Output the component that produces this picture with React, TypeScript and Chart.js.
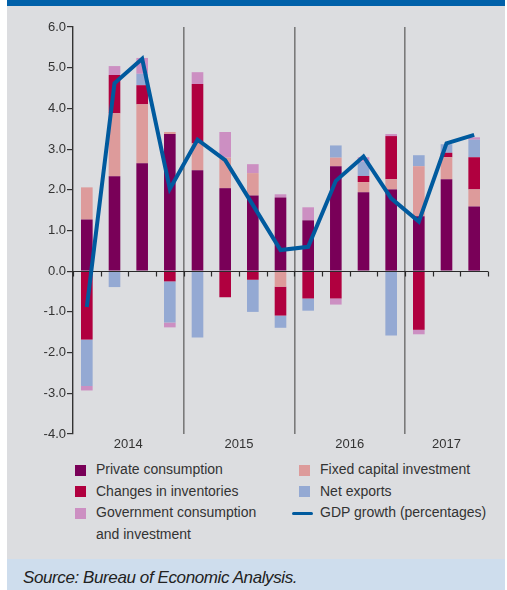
import React, { useEffect, useRef } from 'react';
import { Chart, registerables } from 'chart.js';

Chart.register(...registerables);

// ---- data ----
const quarters = [
  '2014 Q1', '2014 Q2', '2014 Q3', '2014 Q4',
  '2015 Q1', '2015 Q2', '2015 Q3', '2015 Q4',
  '2016 Q1', '2016 Q2', '2016 Q3', '2016 Q4',
  '2017 Q1', '2017 Q2', '2017 Q3',
];
const years = ['2014', '2015', '2016', '2017'];
const yearCenters = [1.5, 5.5, 9.5, 13];
const yearBoundaries = [4, 8, 12];
const yTicks = [-4, -3, -2, -1, 0, 1, 2, 3, 4, 5, 6];

const privateConsumption = [1.27, 2.33, 2.65, 3.37, 2.48, 2.04, 1.86, 1.81, 1.25, 2.58, 1.94, 2.01, 1.35, 2.26, 1.59];
const fixedCapital = [0.79, 1.55, 1.45, 0.05, 0.66, 0.75, 0.55, -0.38, 0, 0.21, 0.25, 0.25, 1.23, 0.54, 0.42];
const inventories = [-1.68, 0.94, 0.47, -0.25, 1.46, -0.64, -0.21, -0.71, -0.67, -0.67, 0.15, 1.06, -1.44, 0.11, 0.79];
const netExports = [-1.14, -0.39, 0.28, -1.01, -1.63, 0, -0.79, -0.30, -0.30, 0.30, 0.35, -1.58, 0.27, 0.21, 0.43];
const government = [-0.11, 0.22, 0.39, -0.12, 0.29, 0.63, 0.22, 0.08, 0.32, -0.15, 0.11, 0.05, -0.11, -0.02, 0.06];
const gdpGrowth = [-0.88, 4.62, 5.22, 2.02, 3.23, 2.73, 1.63, 0.52, 0.60, 2.22, 2.82, 1.79, 1.22, 3.14, 3.35];

const seriesNames = [
  'Private consumption',
  'Fixed capital investment',
  'Changes in inventories',
  'Net exports',
  'Government consumption and investment',
  'GDP growth (percentages)',
];

const COLORS = {
  pc: '#790058',
  fci: '#dd9b9b',
  inv: '#b0003f',
  ne: '#94a9d3',
  gov: '#cc8fc2',
  gdp: '#005a9e',
};

const FONT = "'Liberation Sans', Arial, sans-serif";
const TEXT = '#333333';

const zeroLinePlugin = {
  id: 'zeroLine',
  beforeDatasetDraw(chart: any, args: any) {
    if (args.index !== 5) return;
    const { ctx, chartArea, scales } = chart;
    const xs = scales.x;
    const y0 = Math.round(scales.y.getPixelForValue(0)) + 0.5;
    const half = (xs.getPixelForValue(1) - xs.getPixelForValue(0)) / 2;
    ctx.save();
    ctx.strokeStyle = '#2a2a2a';
    ctx.lineWidth = 1.2;
    ctx.beginPath();
    ctx.moveTo(chartArea.left, y0);
    ctx.lineTo(chartArea.right, y0);
    for (let i = 0; i <= quarters.length; i++) {
      const x = Math.round(xs.getPixelForValue(i) - half) + 0.5;
      ctx.moveTo(x, y0);
      ctx.lineTo(x, y0 + 5);
    }
    ctx.stroke();
    ctx.restore();
  },
};

function ChartCanvas() {
  const ref = useRef<HTMLCanvasElement | null>(null);
  useEffect(() => {
    if (!ref.current) return;
    const barDs = (label: string, data: number[], color: string) => ({
      type: 'bar' as const,
      label,
      data,
      backgroundColor: color,
      borderWidth: 0,
      barPercentage: 0.42,
      categoryPercentage: 1,
      stack: 'parts',
      order: 1,
    });
    const chart = new Chart(ref.current, {
      type: 'bar',
      data: {
        labels: quarters,
        datasets: [
          barDs(seriesNames[0], privateConsumption, COLORS.pc),
          barDs(seriesNames[1], fixedCapital, COLORS.fci),
          barDs(seriesNames[2], inventories, COLORS.inv),
          barDs(seriesNames[3], netExports, COLORS.ne),
          barDs(seriesNames[4], government, COLORS.gov),
          {
            type: 'line' as const,
            label: seriesNames[5],
            data: gdpGrowth,
            borderColor: COLORS.gdp,
            backgroundColor: COLORS.gdp,
            borderWidth: 4,
            pointRadius: 0,
            tension: 0,
            fill: false,
            stack: 'gdp',
            order: 0,
            borderJoinStyle: 'miter',
          } as any,
        ],
      },
      options: {
        responsive: false,
        animation: false,
        layout: { padding: { top: 21, right: 17, bottom: 0, left: 0 } },
        plugins: {
          legend: { display: false },
          tooltip: { enabled: false },
          title: { display: false },
        },
        scales: {
          x: {
            type: 'category',
            stacked: true,
            offset: true,
            grid: {
              offset: true,
              drawTicks: false,
              lineWidth: 1.6,
              color: (ctx: any) => (yearBoundaries.includes(ctx.index) ? '#7a7a7a' : 'rgba(0,0,0,0)'),
            },
            border: { display: false },
            ticks: { display: false },
            afterFit: (s: any) => { s.height = 0; },
          },
          x2: {
            type: 'linear',
            position: 'bottom',
            offset: false,
            min: -0.5,
            max: quarters.length - 0.5,
            grid: { display: false, drawTicks: false, offset: false },
            border: { display: false },
            ticks: {
              autoSkip: false,
              maxRotation: 0,
              padding: 3,
              color: TEXT,
              font: { family: FONT, size: 13 },
              callback: (v: any) => {
                const i = yearCenters.indexOf(Number(v));
                return i >= 0 ? years[i] : '';
              },
            },
            afterBuildTicks: (axis: any) => {
              axis.ticks = yearCenters.map((v) => ({ value: v }));
            },
            afterFit: (s: any) => { s.height = 20; },
          },
          y: {
            type: 'linear',
            stacked: true,
            min: -4,
            max: 6,
            grid: {
              drawOnChartArea: false,
              drawTicks: true,
              tickLength: 6,
              color: '#333333',
              lineWidth: 1.2,
            },
            border: { display: true, color: '#333333', width: 1.4 },
            ticks: {
              padding: 1,
              color: TEXT,
              font: { family: FONT, size: 13 },
              callback: (v: any) => Number(v).toFixed(1),
            },
            afterBuildTicks: (axis: any) => {
              axis.ticks = yTicks.map((v) => ({ value: v }));
            },
            afterFit: (s: any) => { s.width = 66; },
          },
        },
      } as any,
      plugins: [zeroLinePlugin],
    });
    return () => chart.destroy();
  }, []);
  return <canvas ref={ref} width={498} height={448} style={{ display: 'block' }} />;
}

const legendItems = [
  { name: seriesNames[0], color: COLORS.pc, left: 75, row: 0, kind: 'box' },
  { name: seriesNames[1], color: COLORS.fci, left: 299, row: 0, kind: 'box' },
  { name: seriesNames[2], color: COLORS.inv, left: 75, row: 1, kind: 'box' },
  { name: seriesNames[3], color: COLORS.ne, left: 299, row: 1, kind: 'box' },
  { name: seriesNames[4], color: COLORS.gov, left: 75, row: 2, kind: 'box' },
  { name: seriesNames[5], color: COLORS.gdp, left: 292, row: 2, kind: 'line' },
];

export default function App() {
  const rowCenters = [470, 491.5, 513];
  return (
    <div style={{ position: 'fixed', left: 0, top: 0, width: 507, height: 590, background: '#ffffff', overflow: 'hidden', fontFamily: FONT }}>
      <div style={{ position: 'absolute', left: 7, top: 0, width: 498, height: 6, background: '#0060a9' }} />
      <div style={{ position: 'absolute', left: 7, top: 6, width: 498, height: 553, background: '#dcdde0' }} />
      <div style={{ position: 'absolute', left: 7, top: 6 }}>
        <ChartCanvas />
      </div>
      {legendItems.map((it) => {
        const cy = rowCenters[it.row];
        return (
          <React.Fragment key={it.name}>
            {it.kind === 'box' ? (
              <div style={{ position: 'absolute', left: it.left, top: cy - 5.5, width: 11, height: 11, background: it.color }} />
            ) : (
              <div style={{ position: 'absolute', left: it.left, top: cy - 1.5, width: 21, height: 3, borderRadius: 2, background: it.color }} />
            )}
            <div
              style={{
                position: 'absolute',
                left: it.kind === 'box' ? it.left + 21 : it.left + 28,
                top: cy - 10.75,
                width: it.kind === 'box' && it.left < 200 ? 190 : 200,
                fontSize: 14,
                lineHeight: '21.5px',
                color: TEXT,
                whiteSpace: it.row === 2 && it.kind === 'box' ? 'normal' : 'nowrap',
              }}
            >
              {it.row === 2 && it.kind === 'box' ? (
                <>Government consumption<br />and investment</>
              ) : (
                it.name
              )}
            </div>
          </React.Fragment>
        );
      })}
      <div style={{ position: 'absolute', left: 7, top: 559, width: 498, height: 31, background: '#cedded' }} />
      <div
        style={{
          position: 'absolute',
          left: 23,
          top: 569,
          fontSize: 17,
          lineHeight: '17px',
          fontStyle: 'italic',
          letterSpacing: '-0.4px',
          color: '#222222',
          whiteSpace: 'nowrap',
        }}
      >
        Source: Bureau of Economic Analysis.
      </div>
    </div>
  );
}
